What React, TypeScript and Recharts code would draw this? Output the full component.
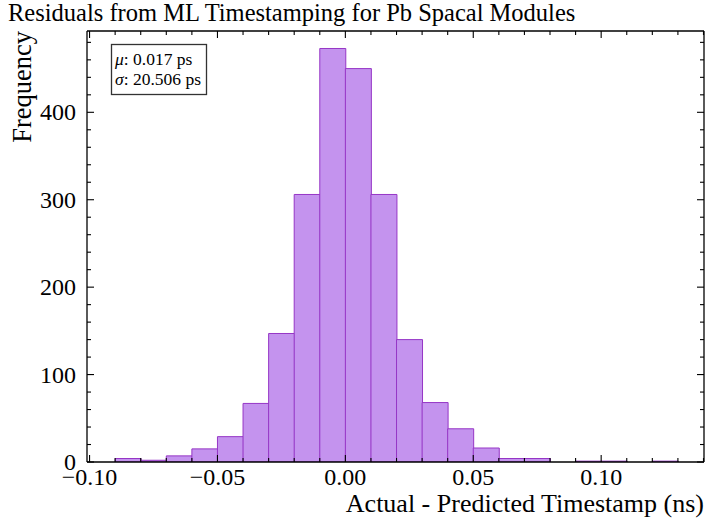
import { BarChart, Bar, XAxis, YAxis } from 'recharts'

// histogram bins (centre of each 0.01 ns bin) and counts
const binCenters = [
  -0.085, -0.075, -0.065, -0.055, -0.045, -0.035, -0.025, -0.015, -0.005,
  0.005, 0.015, 0.025, 0.035, 0.045, 0.055, 0.065, 0.075, 0.085, 0.095,
  0.105, 0.115, 0.125, 0.135,
]
const counts = [
  4, 2, 7, 15, 29, 67, 147, 306, 473,
  450, 306, 140, 68, 38, 16, 4, 4, 0, 1,
  1, 0, 1, 0,
]

const xTicks = [
  -0.1, -0.09, -0.08, -0.07, -0.06, -0.05, -0.04, -0.03, -0.02, -0.01,
  0, 0.01, 0.02, 0.03, 0.04, 0.05, 0.06, 0.07, 0.08, 0.09, 0.1, 0.11, 0.12, 0.13, 0.14,
]
const xMajor = [-0.1, -0.05, 0, 0.05, 0.1]
const yTicks = [0, 20, 40, 60, 80, 100, 120, 140, 160, 180, 200, 220, 240, 260, 280, 300, 320, 340, 360, 380, 400, 420, 440, 460, 480]
const yMajor = [0, 100, 200, 300, 400]

const xDomain = [-0.101, 0.1402]
const yDomain = [0, 493]

const data = binCenters.map((c, i) => ({ x: c, count: counts[i] }))

const FONT = '"Liberation Serif", "DejaVu Serif", serif'
const isMajor = (v: number, majors: number[]) => majors.some((m) => Math.abs(m - v) < 1e-9)
const fmtX = (v: number) => (Math.abs(v) < 1e-9 ? '0.00' : v.toFixed(2).replace('-', '\u2212'))

function BottomTick({ x, y, payload }: any) {
  const major = isMajor(payload.value, xMajor)
  return (
    <g>
      <line x1={x} x2={x} y1={y} y2={y - (major ? 7 : 4)} stroke="#000" strokeWidth={1.1} />
      {major && (
        <text x={x} y={y + 23} textAnchor="middle" fontSize={24} fontFamily={FONT} fill="#000">
          {fmtX(payload.value)}
        </text>
      )}
    </g>
  )
}

function TopTick({ x, y, payload }: any) {
  const major = isMajor(payload.value, xMajor)
  return <line x1={x} x2={x} y1={y} y2={y + (major ? 7 : 4)} stroke="#000" strokeWidth={1.1} />
}

function LeftTick({ x, y, payload }: any) {
  const major = isMajor(payload.value, yMajor)
  return (
    <g>
      <line x1={x} x2={x + (major ? 7 : 4)} y1={y} y2={y} stroke="#000" strokeWidth={1.1} />
      {major && (
        <text x={x - 11} y={y + 8} textAnchor="end" fontSize={24} fontFamily={FONT} fill="#000">
          {payload.value}
        </text>
      )}
    </g>
  )
}

function RightTick({ x, y, payload }: any) {
  const major = isMajor(payload.value, yMajor)
  return <line x1={x} x2={x - (major ? 7 : 4)} y1={y} y2={y} stroke="#000" strokeWidth={1.1} />
}

export default function App() {
  return (
    <div style={{ position: 'relative', width: 706, height: 522, background: '#fff' }}>
      <style>{'body{margin:0}'}</style>
      <BarChart
        width={706}
        height={522}
        data={data}
        margin={{ top: 30, right: 1, bottom: 0, left: 0 }}
        barCategoryGap={0}
        barGap={0}
      >
        <XAxis
          xAxisId="bottom"
          dataKey="x"
          type="number"
          domain={xDomain}
          ticks={xTicks}
          interval={0}
          allowDataOverflow
          height={60}
          tickSize={0}
          tickMargin={0}
          tickLine={false}
          axisLine={{ stroke: '#000', strokeWidth: 1.3 }}
          tick={<BottomTick />}
        />
        <XAxis
          xAxisId="top"
          orientation="top"
          dataKey="x"
          type="number"
          domain={xDomain}
          ticks={xTicks}
          interval={0}
          allowDataOverflow
          height={1}
          tickSize={0}
          tickMargin={0}
          tickLine={false}
          axisLine={{ stroke: '#000', strokeWidth: 1.3 }}
          tick={<TopTick />}
        />
        <YAxis
          yAxisId="left"
          type="number"
          domain={yDomain}
          ticks={yTicks}
          interval={0}
          allowDataOverflow
          width={87}
          tickSize={0}
          tickMargin={0}
          tickLine={false}
          axisLine={{ stroke: '#000', strokeWidth: 1.3 }}
          tick={<LeftTick />}
        />
        <YAxis
          yAxisId="right"
          orientation="right"
          type="number"
          domain={yDomain}
          ticks={yTicks}
          interval={0}
          allowDataOverflow
          width={1}
          tickSize={0}
          tickMargin={0}
          tickLine={false}
          axisLine={{ stroke: '#000', strokeWidth: 1.3 }}
          tick={<RightTick />}
        />
        <Bar
          xAxisId="bottom"
          yAxisId="left"
          dataKey="count"
          fill="#c493ee"
          stroke="#9636c6"
          strokeWidth={1}
          isAnimationActive={false}
        />
      </BarChart>
      <svg
        width={706}
        height={522}
        style={{ position: 'absolute', left: 0, top: 0, pointerEvents: 'none' }}
        fontFamily={FONT}
      >
        <text x={8} y={21} fontSize={24.5} fill="#000">
          Residuals from ML Timestamping for Pb Spacal Modules
        </text>
        <text x={31} y={31} fontSize={26.5} fill="#000" textAnchor="end" transform="rotate(-90, 31, 31)">
          Frequency
        </text>
        <text x={704} y={512} fontSize={26} fill="#000" textAnchor="end">
          Actual - Predicted Timestamp (ns)
        </text>
        <rect x={111.5} y={44.5} width={95} height={50} fill="#fff" stroke="#333" strokeWidth={1.3} />
        <text x={115} y={65} fontSize={17.5} fill="#000">
          <tspan fontStyle="italic">μ</tspan>: 0.017 ps
        </text>
        <text x={115} y={85} fontSize={17.5} fill="#000">
          <tspan fontStyle="italic">σ</tspan>: 20.506 ps
        </text>
      </svg>
    </div>
  )
}
